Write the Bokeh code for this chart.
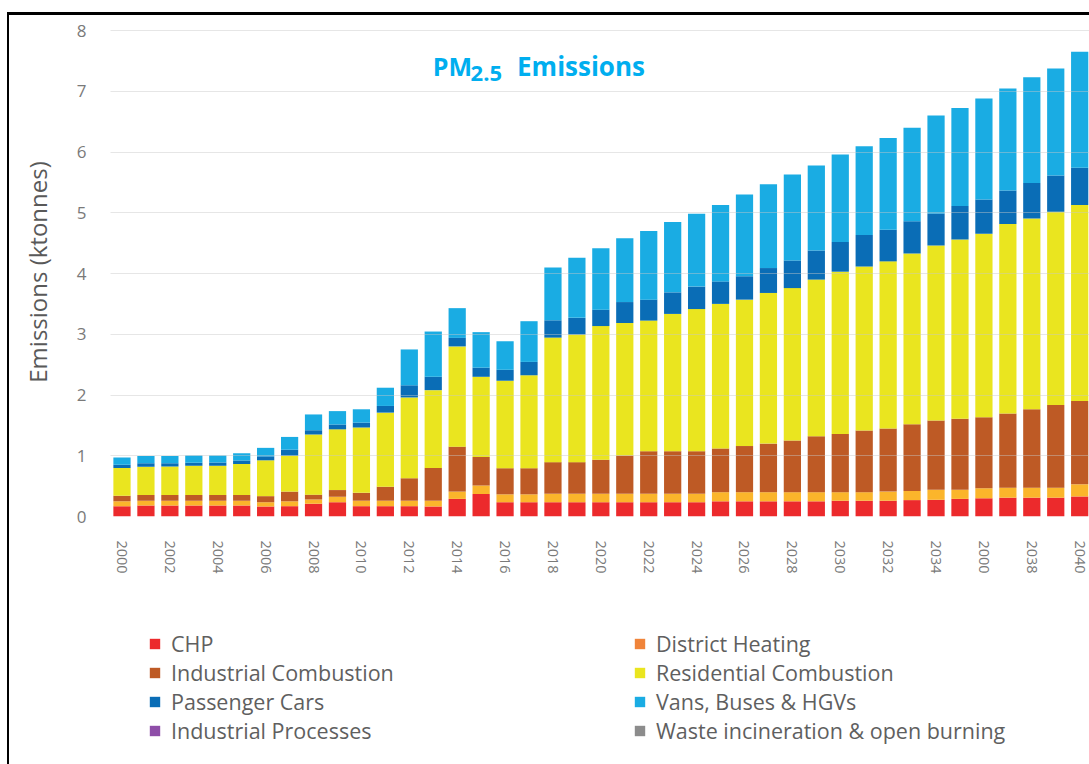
from bokeh.plotting import figure
from bokeh.layouts import column
from bokeh.models import ColumnDataSource, Range1d, FixedTicker, Legend, LegendItem, Label
from bokeh.embed import file_html
from bokeh.resources import INLINE

years = list(range(2000, 2041))

chp = [0.17, 0.18, 0.18, 0.18, 0.18, 0.18, 0.165, 0.17, 0.21, 0.235,
       0.17, 0.17, 0.17, 0.165, 0.29, 0.37, 0.235, 0.235, 0.235, 0.235,
       0.235, 0.235, 0.235, 0.235, 0.235, 0.25, 0.25, 0.25, 0.25, 0.25,
       0.26, 0.26, 0.26, 0.27, 0.275, 0.29, 0.30, 0.31, 0.31, 0.31, 0.33]
district_heating = [0.08, 0.08, 0.08, 0.08, 0.08, 0.08, 0.07, 0.08, 0.07, 0.09,
                    0.09, 0.09, 0.09, 0.095, 0.12, 0.14, 0.13, 0.13, 0.14, 0.14,
                    0.14, 0.14, 0.14, 0.14, 0.14, 0.15, 0.15, 0.15, 0.15, 0.15,
                    0.14, 0.14, 0.15, 0.15, 0.165, 0.15, 0.165, 0.165, 0.165, 0.165, 0.20]
industrial_combustion = [0.09, 0.095, 0.095, 0.095, 0.095, 0.095, 0.10, 0.16, 0.08, 0.11,
                         0.13, 0.23, 0.37, 0.54, 0.74, 0.47, 0.43, 0.43, 0.52, 0.52,
                         0.56, 0.63, 0.70, 0.70, 0.70, 0.72, 0.76, 0.80, 0.85, 0.92,
                         0.96, 1.015, 1.04, 1.10, 1.14, 1.17, 1.17, 1.22, 1.29, 1.36, 1.37]
residential_combustion = [0.46, 0.465, 0.47, 0.48, 0.48, 0.51, 0.59, 0.59, 0.99, 1.00,
                          1.075, 1.22, 1.33, 1.28, 1.65, 1.32, 1.44, 1.53, 2.05, 2.10,
                          2.20, 2.18, 2.15, 2.26, 2.34, 2.38, 2.41, 2.48, 2.51, 2.58,
                          2.67, 2.70, 2.75, 2.81, 2.88, 2.95, 3.02, 3.12, 3.14, 3.18, 3.23]
passenger_cars = [0.05, 0.055, 0.05, 0.05, 0.055, 0.055, 0.065, 0.10, 0.07, 0.08,
                  0.08, 0.11, 0.20, 0.22, 0.14, 0.15, 0.18, 0.22, 0.285, 0.275,
                  0.27, 0.345, 0.345, 0.355, 0.37, 0.37, 0.385, 0.41, 0.455, 0.48,
                  0.49, 0.52, 0.52, 0.53, 0.53, 0.55, 0.565, 0.55, 0.585, 0.60, 0.61]
vans_buses_hgvs = [0.12, 0.12, 0.12, 0.12, 0.115, 0.12, 0.14, 0.21, 0.26, 0.22,
                   0.22, 0.30, 0.59, 0.745, 0.49, 0.585, 0.47, 0.67, 0.87, 0.99,
                   1.01, 1.05, 1.13, 1.16, 1.20, 1.26, 1.345, 1.38, 1.415, 1.40,
                   1.44, 1.46, 1.51, 1.54, 1.61, 1.615, 1.66, 1.68, 1.74, 1.76, 1.91]
industrial_processes = [0.0] * 41
waste_incineration = [0.0] * 41

series_keys = ["chp", "dh", "ic", "rc", "pc", "vans", "ip", "waste"]
series_labels = ["CHP", "District Heating", "Industrial Combustion", "Residential Combustion",
                 "Passenger Cars", "Vans, Buses & HGVs", "Industrial Processes",
                 "Waste incineration & open burning"]
bar_colors = ["#EC2A2C", "#FBB52B", "#BE5A25", "#EAE51F", "#0A6DB6", "#1AACE3", "#8E4EA8", "#8C8C8C"]
legend_colors = ["#EC2A2C", "#F0843A", "#BE5A25", "#EAE51F", "#0A6DB6", "#1AACE3", "#8E4EA8", "#8C8C8C"]

tick_years = years[::2]
tick_labels = ["2000", "2002", "2004", "2006", "2008", "2010", "2012", "2014", "2016", "2018",
               "2020", "2022", "2024", "2026", "2028", "2030", "2032", "2034", "2000", "2038", "2040"]
y_ticks = [0, 1, 2, 3, 4, 5, 6, 7, 8]

source = ColumnDataSource(dict(year=years, chp=chp, dh=district_heating, ic=industrial_combustion,
                               rc=residential_combustion, pc=passenger_cars, vans=vans_buses_hgvs,
                               ip=industrial_processes, waste=waste_incineration))

# ---------------- main chart ----------------
p = figure(width=1080, height=585, output_backend="svg", toolbar_location=None,
           x_range=Range1d(1999.52, 2040.41), y_range=Range1d(0, 8.05))
p.min_border_left = 101
p.min_border_right = 0
p.min_border_top = 12
p.min_border_bottom = 84
p.outline_line_color = None
p.background_fill_color = "white"
p.border_fill_color = "white"

p.vbar_stack(series_keys, x="year", width=0.72, color=bar_colors, line_color=None, source=source)

p.xaxis.ticker = FixedTicker(ticks=tick_years)
p.xaxis.major_label_overrides = {y: lab for y, lab in zip(tick_years, tick_labels)}
p.xaxis.major_label_orientation = "vertical"
p.xaxis.major_label_text_font = "Open Sans"
p.xaxis.major_label_text_font_size = "14.5px"
p.xaxis.major_label_text_color = "#7a7a7a"
p.xaxis.major_label_standoff = 18
p.xaxis.axis_line_color = None
p.xaxis.major_tick_line_color = None
p.xaxis.minor_tick_line_color = None

p.yaxis.ticker = FixedTicker(ticks=y_ticks)
p.yaxis.major_label_text_font = "Open Sans"
p.yaxis.major_label_text_font_size = "17px"
p.yaxis.major_label_text_color = "#7a7a7a"
p.yaxis.major_label_standoff = 18
p.yaxis.axis_line_color = None
p.yaxis.major_tick_line_color = None
p.yaxis.minor_tick_line_color = None
p.yaxis.axis_label = "Emissions (ktonnes)"
p.yaxis.axis_label_text_font = "Open Sans"
p.yaxis.axis_label_text_font_size = "24px"
p.yaxis.axis_label_text_font_style = "normal"
p.yaxis.axis_label_text_color = "#595959"
p.yaxis.axis_label_standoff = 20

p.xgrid.visible = False
p.ygrid.grid_line_color = "#c8c8c8"
p.ygrid.grid_line_alpha = 0.45
p.ygrid.level = "overlay"

title_color = "#00AEEF"
p.add_layout(Label(x=2012.98, y=7.42, text="PM", text_font="Open Sans", text_font_style="bold",
                   text_font_size="25px", text_color=title_color, text_baseline="alphabetic"))
p.add_layout(Label(x=2014.56, y=7.30, text="2.5", text_font="Open Sans", text_font_style="bold",
                   text_font_size="22px", text_color=title_color, text_baseline="alphabetic"))
p.add_layout(Label(x=2016.50, y=7.42, text="Emissions", text_font="Open Sans", text_font_style="bold",
                   text_font_size="26px", text_color=title_color, text_baseline="alphabetic"))

# ---------------- legend panel ----------------
lg = figure(width=1080, height=164, output_backend="svg", toolbar_location=None,
            x_range=Range1d(0, 1), y_range=Range1d(0, 1))
lg.min_border_left = 0
lg.min_border_right = 0
lg.min_border_top = 0
lg.min_border_bottom = 0
lg.axis.visible = False
lg.grid.visible = False
lg.outline_line_color = None

# swatch renderers use the same data (they fall outside this panel's range, so only the legend shows)
swatches = [lg.vbar(x="year", top=k, width=0.72, color=c, line_color=None, source=source)
            for k, c in zip(series_keys, legend_colors)]

def make_legend(idx, loc):
    items = [LegendItem(label=series_labels[i], renderers=[swatches[i]]) for i in idx]
    return Legend(items=items, location=loc, orientation="vertical",
                  glyph_width=13, glyph_height=13, label_standoff=10, spacing=0,
                  padding=0, margin=0, border_line_color=None, background_fill_alpha=0,
                  label_text_font="Open Sans", label_text_font_size="21.5px",
                  label_text_color="#5f5f5f")

lg.add_layout(make_legend([0, 2, 4, 6], (38, 19)))
lg.add_layout(make_legend([1, 3, 5, 7], (523, 19)))

layout = column(p, lg, spacing=0,
                styles={"border-left": "2px solid #000000", "border-top": "3px solid #000000",
                        "margin-top": "12px", "margin-left": "7px"})

open("out.html", "w").write(file_html(layout, INLINE))
